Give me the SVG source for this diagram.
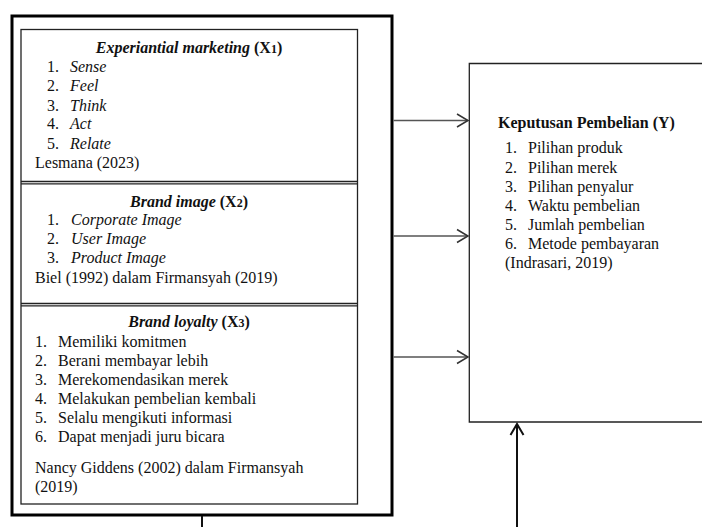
<svg xmlns="http://www.w3.org/2000/svg" width="702" height="527" viewBox="0 0 702 527">
<style>
text{font-family:"Liberation Serif","Times New Roman",serif;font-size:16px;fill:#111}
.t{font-weight:bold;font-style:italic}
.b{font-weight:bold}
.i{font-style:italic}
.c{text-anchor:middle}
.thin{fill:none;stroke:#222;stroke-width:1.3}
.conn{fill:none;stroke:#555;stroke-width:1.5}
.head{fill:none;stroke:#333;stroke-width:1.5}
</style>
<rect width="702" height="527" fill="#fff"/>
<g id="outer-box">
<rect x="12" y="16" width="380" height="499" fill="none" stroke="#000" stroke-width="3"/>
</g>
<g id="x-box">
<rect class="thin" x="21" y="29.5" width="336.5" height="474.5"/>
<line class="thin" x1="21" y1="181.5" x2="357.5" y2="181.5"/>
<line class="thin" x1="21" y1="183.8" x2="357.5" y2="183.8"/>
<line class="thin" x1="21" y1="303.5" x2="357.5" y2="303.5"/>
<line class="thin" x1="21" y1="305.8" x2="357.5" y2="305.8"/>
</g>
<g id="x1">
<text class="c" x="189" y="53"><tspan class="t">Experiantial marketing</tspan><tspan class="b"> (X</tspan><tspan class="b" font-size="12">1</tspan><tspan class="b">)</tspan></text>
<text x="47" y="72">1.</text><text class="i" x="70" y="72">Sense</text>
<text x="47" y="91">2.</text><text class="i" x="70" y="91">Feel</text>
<text x="47" y="111">3.</text><text class="i" x="70" y="111">Think</text>
<text x="47" y="129">4.</text><text class="i" x="70" y="129">Act</text>
<text x="47" y="149">5.</text><text class="i" x="70" y="149">Relate</text>
<text x="35" y="168">Lesmana (2023)</text>
</g>
<g id="x2">
<text class="c" x="189" y="207"><tspan class="t">Brand image</tspan><tspan class="b"> (X</tspan><tspan class="b" font-size="12">2</tspan><tspan class="b">)</tspan></text>
<text x="47" y="225">1.</text><text class="i" x="71" y="225">Corporate Image</text>
<text x="47" y="244">2.</text><text class="i" x="71" y="244">User Image</text>
<text x="47" y="263">3.</text><text class="i" x="71" y="263">Product Image</text>
<text x="35" y="283">Biel (1992) dalam Firmansyah (2019)</text>
</g>
<g id="x3">
<text class="c" x="189" y="327"><tspan class="t">Brand loyalty</tspan><tspan class="b"> (X</tspan><tspan class="b" font-size="12">3</tspan><tspan class="b">)</tspan></text>
<text x="35" y="347">1.</text><text x="58" y="347">Memiliki komitmen</text>
<text x="35" y="366">2.</text><text x="58" y="366">Berani membayar lebih</text>
<text x="35" y="385">3.</text><text x="58" y="385">Merekomendasikan merek</text>
<text x="35" y="404">4.</text><text x="58" y="404">Melakukan pembelian kembali</text>
<text x="35" y="423">5.</text><text x="58" y="423">Selalu mengikuti informasi</text>
<text x="35" y="442">6.</text><text x="58" y="442">Dapat menjadi juru bicara</text>
<text x="35" y="473">Nancy Giddens (2002) dalam Firmansyah</text>
<text x="35" y="492">(2019)</text>
</g>
<g id="y">
<path class="thin" d="M710,63.5 H469.3 V422 H710"/>
<text class="b" x="498" y="128">Keputusan Pembelian (Y)</text>
<text x="505" y="153">1.</text><text x="528" y="153">Pilihan produk</text>
<text x="505" y="173">2.</text><text x="528" y="173">Pilihan merek</text>
<text x="505" y="192">3.</text><text x="528" y="192">Pilihan penyalur</text>
<text x="505" y="211">4.</text><text x="528" y="211">Waktu pembelian</text>
<text x="505" y="230">5.</text><text x="528" y="230">Jumlah pembelian</text>
<text x="505" y="249">6.</text><text x="528" y="249">Metode pembayaran</text>
<text x="505" y="268">(Indrasari, 2019)</text>
</g>
<g id="connectors">
<line class="conn" x1="393.5" y1="120.5" x2="468" y2="120.5"/>
<path class="head" d="M457,114 L468,120.5 L457,127"/>
<line class="conn" x1="393.5" y1="236" x2="468" y2="236"/>
<path class="head" d="M457,229.5 L468,236 L457,242.5"/>
<line class="conn" x1="393.5" y1="357" x2="468" y2="357"/>
<path class="head" d="M457,350.5 L468,357 L457,363.5"/>
<line x1="517" y1="527" x2="517" y2="424" stroke="#111" stroke-width="2"/>
<path d="M510.5,435 L517,424 L523.5,435" fill="none" stroke="#111" stroke-width="2"/>
<line x1="202" y1="516" x2="202" y2="527" stroke="#111" stroke-width="2"/>
</g>
</svg>
